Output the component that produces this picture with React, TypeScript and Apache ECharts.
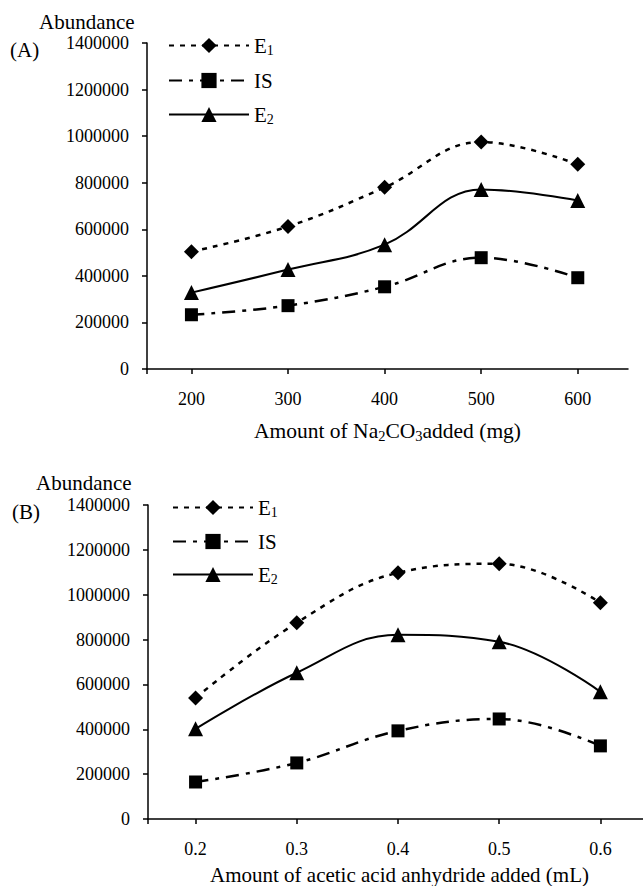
import React, { useEffect, useRef } from "react";
import * as echarts from "echarts";

// Panel A: amount of Na2CO3 added (mg)
const xA = [200, 300, 400, 500, 600];
const e1A = [504000, 612000, 780000, 975000, 879000];
const isA = [233000, 272000, 353000, 478000, 392000];
const e2A = [328000, 427000, 534000, 771000, 724000];

// Panel B: amount of acetic acid anhydride added (mL)
const xB = [0.2, 0.3, 0.4, 0.5, 0.6];
const e1B = [540000, 875000, 1098000, 1138000, 964000];
const isB = [165000, 250000, 393000, 446000, 326000];
const e2B = [402000, 652000, 821000, 790000, 567000];

const yTicks = [0, 200000, 400000, 600000, 800000, 1000000, 1200000, 1400000];
const seriesNames = ["E1", "IS", "E2"];

const FONT = "Liberation Serif";
const BLACK = "#000";

const subRich = {
  n: { fontSize: 21, fontFamily: FONT, color: BLACK },
  s: { fontSize: 14, fontFamily: FONT, color: BLACK, padding: [9, 0, 0, 0] },
};

function legendFmt(name: string) {
  if (name === "E1") return "{n|E}{s|1}";
  if (name === "E2") return "{n|E}{s|2}";
  return "{n|" + name + "}";
}

function pairs(xs: number[], ys: number[]) {
  return xs.map((x, i) => [x, ys[i]]);
}

export default function App() {
  const ref = useRef<HTMLDivElement>(null);
  useEffect(() => {
    if (!ref.current) return;
    const chart = echarts.init(ref.current, undefined, { renderer: "svg" });

    const mkX = (
      gi: number,
      min: number,
      max: number,
      ticks: number[],
      name: string,
      gap: number,
      fs: number
    ) => ({
      type: "value",
      gridIndex: gi,
      min,
      max,
      name,
      nameLocation: "middle",
      nameGap: gap,
      nameTextStyle: {
        fontFamily: FONT,
        fontSize: fs,
        color: BLACK,
        rich: {
          n: { fontSize: fs, fontFamily: FONT, color: BLACK },
          s: { fontSize: 14.5, fontFamily: FONT, color: BLACK, padding: [9, 0, 0, 0] },
        },
      },
      axisLine: { show: true, onZero: false, lineStyle: { color: BLACK, width: 1.5 } },
      axisTick: { show: true, length: 5, customValues: [min, ...ticks], lineStyle: { color: BLACK, width: 1.5 } },
      axisLabel: {
        customValues: ticks,
        margin: 21,
        fontFamily: FONT,
        fontSize: 18,
        color: BLACK,
        formatter: (v: number) => String(v),
      },
      splitLine: { show: false },
    });

    const mkY = (gi: number) => ({
      type: "value",
      gridIndex: gi,
      min: 0,
      max: 1400000,
      interval: 200000,
      axisLine: { show: true, lineStyle: { color: BLACK, width: 1.5 } },
      axisTick: { show: true, length: 5, lineStyle: { color: BLACK, width: 1.5 } },
      axisLabel: {
        margin: 18,
        fontFamily: FONT,
        fontSize: 18,
        color: BLACK,
        formatter: (v: number) => (yTicks.includes(v) ? String(v) : ""),
      },
      splitLine: { show: false },
    });

    const mkSeries = (gi: number, xs: number[], e1: number[], is: number[], e2: number[]) => [
      {
        name: "E1",
        type: "line",
        xAxisIndex: gi,
        yAxisIndex: gi,
        data: pairs(xs, e1),
        smooth: 0.4,
        symbol: "diamond",
        symbolSize: 15,
        itemStyle: { color: BLACK },
        lineStyle: { color: BLACK, width: 2.5, type: [5, 6] },
      },
      {
        name: "IS",
        type: "line",
        xAxisIndex: gi,
        yAxisIndex: gi,
        data: pairs(xs, is),
        smooth: 0.4,
        symbol: "rect",
        symbolSize: 13,
        itemStyle: { color: BLACK },
        lineStyle: { color: BLACK, width: 2.5, type: [13, 7, 4, 7] },
      },
      {
        name: "E2",
        type: "line",
        xAxisIndex: gi,
        yAxisIndex: gi,
        data: pairs(xs, e2),
        smooth: 0.4,
        symbol: "triangle",
        symbolSize: 15,
        itemStyle: { color: BLACK },
        lineStyle: { color: BLACK, width: 2 },
      },
    ];

    const mkLegend = (left: number, top: number, gap: number) => ({
      data: seriesNames,
      orient: "vertical",
      left,
      top,
      itemWidth: 80,
      itemHeight: 19,
      itemGap: gap,
      selectedMode: false,
      formatter: legendFmt,
      textStyle: { fontFamily: FONT, fontSize: 21, color: BLACK, rich: subRich },
    });

    const txt = (text: string, left: number, y: number) => ({
      type: "text",
      left,
      top: y - 11,
      style: { text, fontFamily: FONT, fontSize: 21, fill: BLACK },
    });

    chart.setOption({
      animation: false,
      backgroundColor: "#fff",
      grid: [
        { left: 147, top: 43, width: 481, height: 326, outerBoundsMode: "none", containLabel: false },
        { left: 148, top: 505, width: 503, height: 314, outerBoundsMode: "none", containLabel: false },
      ],
      xAxis: [
        mkX(0, 154, 652, xA, "Amount of Na{s|2}CO{s|3}added (mg)", 50, 21.5),
        mkX(1, 0.153, 0.65, xB, "Amount of acetic acid anhydride added (mL)", 45, 21),
      ],
      yAxis: [mkY(0), mkY(1)],
      legend: [mkLegend(163, 30, 13), mkLegend(167, 492, 12)],
      graphic: [
        txt("Abundance", 39, 22),
        txt("(A)", 10, 50),
        txt("Abundance", 36, 483),
        txt("(B)", 12, 512),
      ],
      series: [...mkSeries(0, xA, e1A, isA, e2A), ...mkSeries(1, xB, e1B, isB, e2B)],
    });

    return () => chart.dispose();
  }, []);

  return (
    <div
      ref={ref}
      style={{ position: "fixed", left: 0, top: 0, width: 643, height: 886, background: "#fff" }}
    />
  );
}
